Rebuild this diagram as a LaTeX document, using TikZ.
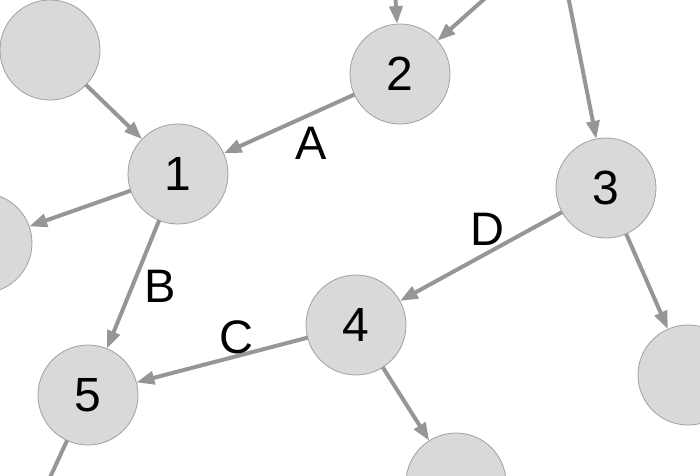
\documentclass[tikz,border=0pt]{standalone}
\usepackage{fontspec}
\setmainfont{Liberation Sans}
\usetikzlibrary{arrows.meta}
\definecolor{vfill}{RGB}{217,217,217}
\definecolor{vline}{RGB}{160,160,160}
\definecolor{egray}{RGB}{150,150,150}

\begin{document}
\begin{tikzpicture}[x=1pt,y=-1pt,>={Triangle[length=18pt,width=13pt]}]
  \tikzset{
    vert/.style={circle,draw=vline,fill=vfill,line width=0.8pt,minimum size=100pt,inner sep=0pt,outer sep=0pt,font=\fontsize{48}{52}\selectfont},
    lbl/.style={inner sep=0pt,font=\fontsize{47}{51}\selectfont},
    arr/.style={->,draw=egray,line width=4pt}
  }
  \useasboundingbox (0,0) rectangle (700,475);
  \clip (0,0) rectangle (700,475);

  % Numbered vertices
  \node[vert] (v1) at (178,174) {1};
  \node[vert] (v2) at (400,74) {2};
  \node[vert] (v3) at (606,188) {3};
  \node[vert] (v4) at (356,325) {4};
  \node[vert] (v5) at (88,395) {5};

  % Unlabelled vertices, partly cut by the frame
  \node[vert] (ul) at (50,50) {};
  \node[vert] (ml) at (-18,243) {};
  \node[vert] (mr) at (688,375) {};
  \node[vert] (bm) at (456,483) {};

  % Ends of edges that leave the frame
  \coordinate (in2a) at (392,-60);
  \coordinate (in2b) at (545,-55);
  \coordinate (in3) at (559,-50);
  \coordinate (out5) at (35,510);

  % Edges
  \draw[arr] (in2a) -- (v2);
  \draw[arr] (in2b) -- (v2);
  \draw[arr] (in3) -- (v3);
  \draw[arr] (ul) -- (v1);
  \draw[arr] (v2) -- (v1);
  \draw[arr] (v1) -- (ml);
  \draw[arr] (v1) -- (v5);
  \draw[arr] (v4) -- (v5);
  \draw[arr] (v3) -- (v4);
  \draw[arr] (v3) -- (mr);
  \draw[arr] (v4) -- (bm);
  \draw[draw=egray,line width=4pt] (v5) -- (out5);

  % Edge labels
  \node[lbl] (la) at (311,143) {A};
  \node[lbl] (lb) at (160,286) {B};
  \node[lbl] (lc) at (236,337) {C};
  \node[lbl] (ld) at (487,229) {D};
\end{tikzpicture}
\end{document}
